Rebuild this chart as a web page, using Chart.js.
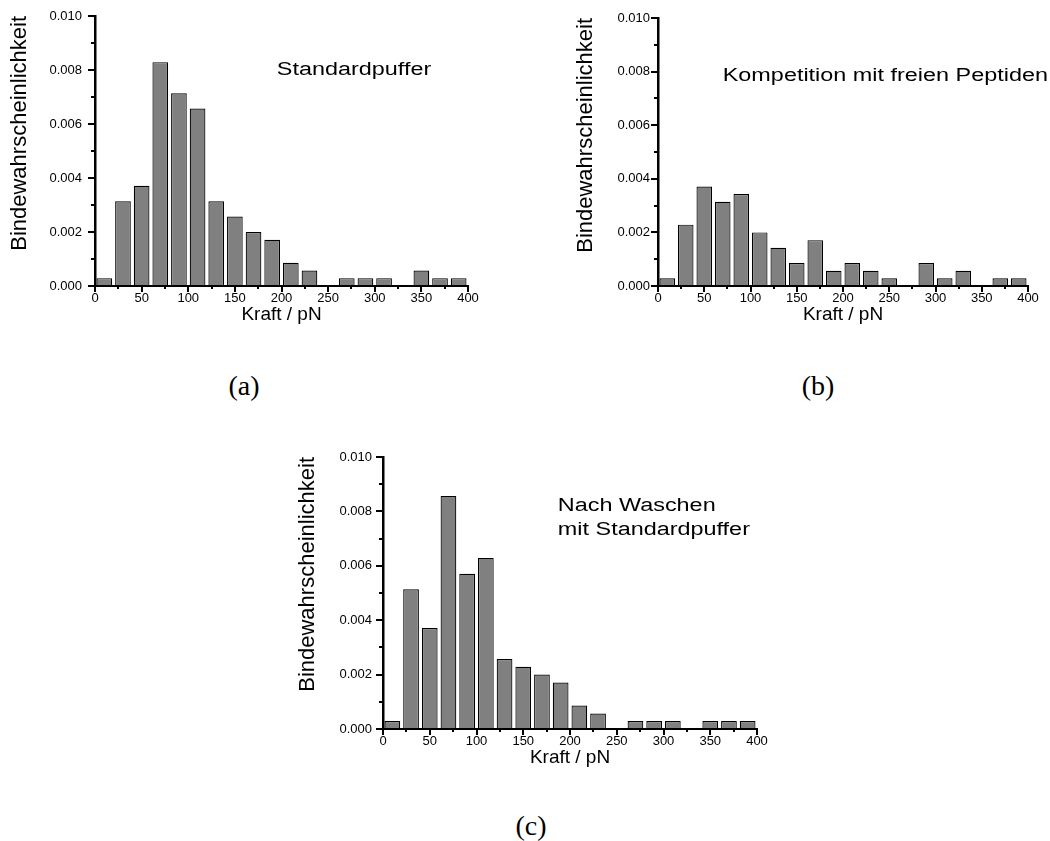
<!DOCTYPE html>
<html>
<head>
<meta charset="utf-8">
<script src="https://cdn.jsdelivr.net/npm/chart.js@4"></script>
<style>
  body { margin: 0; background: #fff; width: 1050px; height: 841px; position: relative; overflow: hidden; }
  canvas { position: absolute; }
  .cap { position: absolute; font-family: 'Liberation Serif', 'Times New Roman', serif; font-size: 28px; color: #000;
         transform: translate(-50%, -50%); white-space: nowrap; }
</style>
</head>
<body>
<canvas id="chartA"></canvas>
<canvas id="chartB"></canvas>
<canvas id="chartC"></canvas>
<div class="cap" style="left:244px; top:386px">(a)</div>
<div class="cap" style="left:818px; top:386px">(b)</div>
<div class="cap" style="left:531px; top:826px">(c)</div>

<script>
// bin centres of the force histograms (20 pN bins)
const binCenters = [10, 30, 50, 70, 90, 110, 130, 150, 170, 190, 210, 230, 250, 270, 290, 310, 330, 350, 370, 390];

const standardpuffer = [0.00029, 0.00314, 0.00371, 0.00829, 0.00714, 0.00657, 0.00314, 0.00257, 0.00200, 0.00171,
                        0.00086, 0.00057, 0, 0.00029, 0.00029, 0.00029, 0, 0.00057, 0.00029, 0.00029];
const kompetition    = [0.00029, 0.00229, 0.00371, 0.00314, 0.00343, 0.00200, 0.00143, 0.00086, 0.00171, 0.00057,
                        0.00086, 0.00057, 0.00029, 0, 0.00086, 0.00029, 0.00057, 0, 0.00029, 0.00029];
const nachWaschen    = [0.00029, 0.00514, 0.00371, 0.00857, 0.00571, 0.00629, 0.00257, 0.00229, 0.00200, 0.00171,
                        0.00086, 0.00057, 0, 0.00029, 0.00029, 0.00029, 0, 0.00029, 0.00029, 0.00029];

// axis ranges / tick steps
const xRange = [0, 400];
const xMajorStep = 50, xMinorStep = 25;
const yRange = [0, 0.010];
const yMajorStep = 0.002, yMinorStep = 0.001;

const xTitle = 'Kraft / pN';
const yTitle = 'Bindewahrscheinlichkeit';
const FONT = "'Liberation Sans', Arial, Helvetica, sans-serif";

const panels = [
  { id: 'chartA', values: standardpuffer, left: 0, top: 0, width: 480, height: 330,
    padTop: 16, padRight: 12, yAxisW: 95, yTickPad: 6, yTitleX: 20,
    text: ['Standardpuffer'], textX: 195, textY: [0.0078] },
  { id: 'chartB', values: kompetition, left: 563, top: 0, width: 487, height: 330,
    padTop: 18, padRight: 22, yAxisW: 95, yTickPad: 1, yTitleX: 23,
    text: ['Kompetition mit freien Peptiden'], textX: 70, textY: [0.00765] },
  { id: 'chartC', values: nachWaschen, left: 290, top: 440, width: 480, height: 333,
    padTop: 17, padRight: 13, yAxisW: 93, yTickPad: 4, yTitleX: 17.5,
    text: ['Nach Waschen', 'mit Standardpuffer'], textX: 187, textY: [0.0080, 0.00714] }
];

function panelText(p) {
  return {
    id: 'panelText',
    afterDatasetsDraw(chart) {
      const { ctx, scales: { x, y } } = chart;
      const px = x.getPixelForValue(p.textX);
      ctx.save();
      ctx.font = '18px ' + FONT;
      ctx.fillStyle = '#000';
      ctx.textBaseline = 'alphabetic';
      p.text.forEach((line, i) => {
        ctx.save();
        ctx.translate(px, y.getPixelForValue(p.textY[i]));
        ctx.scale(1.3, 1);   // the original lettering is stretched sideways
        ctx.fillText(line, 0, 0);
        ctx.restore();
      });
      ctx.restore();
    }
  };
}

function makeChart(p) {
  const cv = document.getElementById(p.id);
  cv.width = p.width; cv.height = p.height;
  cv.style.left = p.left + 'px'; cv.style.top = p.top + 'px';
  cv.style.width = p.width + 'px'; cv.style.height = p.height + 'px';

  const tickFont = { family: FONT, size: 13, lineHeight: 1 };

  new Chart(cv, {
    type: 'bar',
    data: {
      datasets: [{
        data: binCenters.map((c, i) => ({ x: c, y: p.values[i] })),
        backgroundColor: '#808080',
        borderColor: '#000',
        borderWidth: 1.2,
        barPercentage: 0.84,
        categoryPercentage: 1
      }]
    },
    options: {
      responsive: false,
      animation: false,
      devicePixelRatio: 1,
      layout: { padding: { left: 0, top: p.padTop, right: p.padRight, bottom: 0 } },
      plugins: { legend: { display: false }, tooltip: { enabled: false } },
      scales: {
        x: {
          type: 'linear', position: 'bottom', weight: 1,
          min: xRange[0], max: xRange[1], offset: false,
          grid: { display: true, drawOnChartArea: false, offset: false, color: '#000', lineWidth: 2, tickLength: 6 },
          border: { display: true, color: '#000', width: 2 },
          ticks: { stepSize: xMajorStep, padding: 0, color: '#000', font: tickFont, maxRotation: 0, autoSkip: false },
          title: { display: true, text: xTitle, color: '#000', font: { family: FONT, size: 19 }, padding: { top: 0, bottom: 4 } },
          afterFit: s => { s.height = 44; }
        },
        xMinor: {
          type: 'linear', position: 'bottom', weight: 0,
          min: xRange[0], max: xRange[1], offset: false,
          grid: { display: true, drawOnChartArea: false, offset: false, color: '#000', lineWidth: 2, tickLength: 3 },
          border: { display: false },
          ticks: { display: false, stepSize: xMinorStep },
          afterFit: s => { s.height = 0; }
        },
        y: {
          type: 'linear', position: 'left', weight: 1,
          min: yRange[0], max: yRange[1],
          grid: { display: true, drawOnChartArea: false, color: '#000', lineWidth: 2, tickLength: 7 },
          border: { display: true, color: '#000', width: 2.5 },
          ticks: { stepSize: yMajorStep, padding: p.yTickPad, color: '#000', font: tickFont,
                   callback: v => v.toFixed(3) },
          title: { display: true, text: yTitle, align: 'end', color: '#000', font: { family: FONT, size: 22 },
                   padding: { top: p.yTitleX - 13.2, bottom: 0 } },
          afterFit: s => { s.width = p.yAxisW; }
        },
        yMinor: {
          type: 'linear', position: 'left', weight: 0,
          min: yRange[0], max: yRange[1],
          grid: { display: true, drawOnChartArea: false, color: '#000', lineWidth: 2, tickLength: 4 },
          border: { display: false },
          ticks: { display: false, stepSize: yMinorStep },
          afterFit: s => { s.width = 0; }
        }
      }
    },
    plugins: [panelText(p)]
  });
}

panels.forEach(makeChart);
</script>
</body>
</html>
